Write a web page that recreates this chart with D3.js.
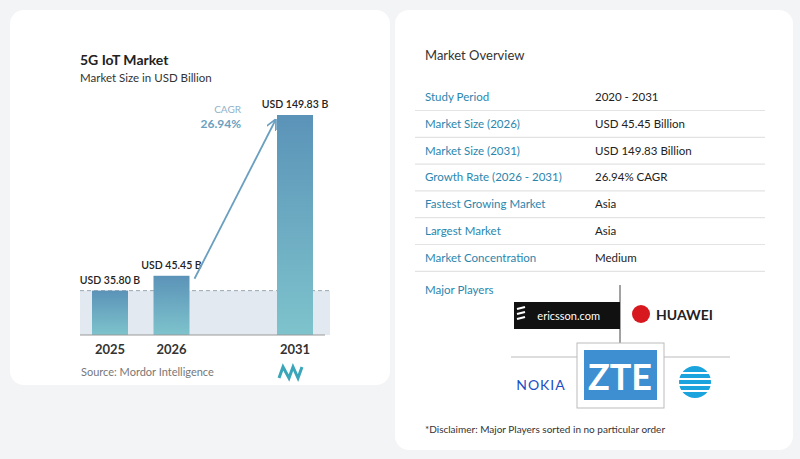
<!DOCTYPE html>
<html><head><meta charset="utf-8">
<script src="https://cdn.jsdelivr.net/npm/d3@7"></script>
<style>body{margin:0;background:#f4f5f7;font-family:Lato,"Open Sans",sans-serif}</style>
</head><body><div id="chart"></div>
<script>
const years = ["2025", "2026", "2031"];
const values = [35.80, 45.45, 149.83];
const valueLabels = ["USD 35.80 B", "USD 45.45 B", "USD 149.83 B"];
const cagr = "26.94%";
const overviewLabels = ["Study Period", "Market Size (2026)", "Market Size (2031)", "Growth Rate (2026 - 2031)",
  "Fastest Growing Market", "Largest Market", "Market Concentration"];
const overviewValues = ["2020 - 2031", "USD 45.45 Billion", "USD 149.83 Billion", "26.94% CAGR", "Asia", "Asia", "Medium"];

const W = 800, H = 459;
const svg = d3.select("#chart").append("svg").attr("width", W).attr("height", H);

// background cards
svg.append("rect").attr("width", W).attr("height", H).attr("fill", "#f3f4f6");
svg.append("rect").attr("x", 10).attr("y", 10).attr("width", 380).attr("height", 375).attr("rx", 14).attr("fill", "#fff");
svg.append("rect").attr("x", 395).attr("y", 10).attr("width", 398).attr("height", 440).attr("rx", 14).attr("fill", "#fff");

const defs = svg.append("defs");
const grad = defs.append("linearGradient").attr("id", "barGrad").attr("x1", 0).attr("y1", 0).attr("x2", 0).attr("y2", 1);
grad.append("stop").attr("offset", "0%").attr("stop-color", "#5b93b8");
grad.append("stop").attr("offset", "100%").attr("stop-color", "#7ec3cc");
defs.append("marker").attr("id", "arrow").attr("viewBox", "0 -5 10 10").attr("refX", 8).attr("refY", 0)
  .attr("orient", "auto").attr("markerWidth", 6).attr("markerHeight", 6)
  .append("path").attr("d", "M0,-5L10,0L0,5").attr("fill", "none").attr("stroke", "#6a9fc0").attr("stroke-width", 1.6);

// titles
svg.append("text").attr("x", 80).attr("y", 65).attr("font-size", 14).attr("font-weight", 700).attr("fill", "#222").text("5G IoT Market");
svg.append("text").attr("x", 80).attr("y", 82).attr("font-size", 11.5).attr("fill", "#333").text("Market Size in USD Billion");

// chart
const baseY = 335;
const x = d3.scalePoint().domain(years).range([110, 295]);
const xPos = {"2025": 110, "2026": 171.5, "2031": 295};
const y = d3.scaleLinear().domain([7, 149.83]).range([baseY, 115]);
const bw = 36;

svg.append("rect").attr("x", 80).attr("y", y(values[0])).attr("width", 250).attr("height", baseY - y(values[0])).attr("fill", "#e2e9f0");
svg.append("line").attr("x1", 80).attr("x2", 330).attr("y1", y(values[0])).attr("y2", y(values[0]))
  .attr("stroke", "#9aa7b2").attr("stroke-dasharray", "4,3");

svg.selectAll(".bar").data(values).enter().append("rect")
  .attr("x", (d, i) => xPos[years[i]] - bw / 2).attr("y", d => y(d))
  .attr("width", bw).attr("height", d => baseY - y(d)).attr("fill", "url(#barGrad)");
svg.append("line").attr("x1", 80).attr("x2", 325).attr("y1", baseY).attr("y2", baseY).attr("stroke", "#999");

svg.selectAll(".vl").data(values).enter().append("text")
  .attr("x", (d, i) => xPos[years[i]]).attr("y", d => y(d) - 7)
  .attr("text-anchor", "middle").attr("font-size", 10.5).attr("font-weight", 600).attr("fill", "#222")
  .text((d, i) => valueLabels[i]);
svg.selectAll(".yl").data(years).enter().append("text")
  .attr("x", d => xPos[d]).attr("y", 354).attr("text-anchor", "middle")
  .attr("font-size", 13).attr("font-weight", 700).attr("fill", "#333").text(d => d);

// CAGR arrow
svg.append("line").attr("x1", xPos["2026"] + 23).attr("y1", y(values[1]) + 3)
  .attr("x2", xPos["2031"] - 20).attr("y2", y(values[2]) + 6)
  .attr("stroke", "#6a9fc0").attr("stroke-width", 1.8).attr("marker-end", "url(#arrow)");
svg.append("text").attr("x", 241).attr("y", 113).attr("text-anchor", "end").attr("font-size", 10).attr("fill", "#8fb2c9").text("CAGR");
svg.append("text").attr("x", 241).attr("y", 128).attr("text-anchor", "end").attr("font-size", 12).attr("font-weight", 700).attr("fill", "#6a9fc0").text(cagr);

svg.append("text").attr("x", 81).attr("y", 376).attr("font-size", 11).attr("fill", "#777").text("Source: Mordor Intelligence");
svg.append("path").attr("d", "M279,378L283,367L289,378L293,367L298,378L302,367").attr("fill", "none").attr("stroke", "#3aa6b9").attr("stroke-width", 3);

// overview table
svg.append("text").attr("x", 425).attr("y", 60).attr("font-size", 13).attr("fill", "#333").text("Market Overview");
const rowH = 26.8, row0 = 97;
overviewLabels.forEach((lab, i) => {
  const cy = row0 + i * rowH;
  svg.append("text").attr("x", 425).attr("y", cy + 4).attr("font-size", 11.5).attr("fill", "#2b86ae").text(lab);
  svg.append("text").attr("x", 595).attr("y", cy + 4).attr("font-size", 11.5).attr("fill", "#222").text(overviewValues[i]);
  svg.append("line").attr("x1", 415).attr("x2", 765).attr("y1", cy + 13.5).attr("y2", cy + 13.5).attr("stroke", "#e3e3e3").attr("stroke-width", 1.2);
});
svg.append("text").attr("x", 425).attr("y", 294).attr("font-size", 11.5).attr("fill", "#2b86ae").text("Major Players");

// logos grid
svg.append("line").attr("x1", 620).attr("x2", 620).attr("y1", 285).attr("y2", 343).attr("stroke", "#444");
svg.append("line").attr("x1", 511).attr("x2", 577).attr("y1", 357).attr("y2", 357).attr("stroke", "#bbb");
svg.append("line").attr("x1", 663).attr("x2", 730).attr("y1", 357).attr("y2", 357).attr("stroke", "#bbb");
svg.append("rect").attr("x", 577).attr("y", 343).attr("width", 87).attr("height", 65).attr("fill", "#fff").attr("stroke", "#bbb");
svg.append("rect").attr("x", 514).attr("y", 302).attr("width", 106).attr("height", 27).attr("fill", "#111");
svg.append("text").attr("x", 600).attr("y", 320).attr("text-anchor", "end").attr("font-size", 11).attr("fill", "#fff").text("ericsson.com");
[0, 1, 2].forEach(i => svg.append("line").attr("x1", 517).attr("x2", 525).attr("y1", 309 + i * 5).attr("y2", 307 + i * 5).attr("stroke", "#fff").attr("stroke-width", 2));
svg.append("circle").attr("cx", 641).attr("cy", 314).attr("r", 9).attr("fill", "#d7181f");
svg.append("text").attr("x", 656).attr("y", 320).attr("font-size", 14).attr("font-weight", 700).attr("fill", "#222").text("HUAWEI");
svg.append("rect").attr("x", 584).attr("y", 350).attr("width", 73).attr("height", 50).attr("fill", "#3d8fd1");
svg.append("text").attr("x", 620).attr("y", 390).attr("text-anchor", "middle").attr("font-size", 36).attr("font-weight", 700).attr("fill", "#fff").text("ZTE");
svg.append("text").attr("x", 541).attr("y", 390).attr("text-anchor", "middle").attr("font-size", 14).attr("fill", "#1a4fc7").attr("letter-spacing", 1).text("NOKIA");
svg.append("circle").attr("cx", 695).attr("cy", 382).attr("r", 16).attr("fill", "#1aa3dd");
[-9, -3, 3, 9].forEach(o => svg.append("line").attr("x1", 679).attr("x2", 711).attr("y1", 382 + o).attr("y2", 382 + o).attr("stroke", "#fff").attr("stroke-width", 2));
svg.append("text").attr("x", 425).attr("y", 433).attr("font-size", 10).attr("fill", "#333").text("*Disclaimer: Major Players sorted in no particular order");
</script></body></html>
